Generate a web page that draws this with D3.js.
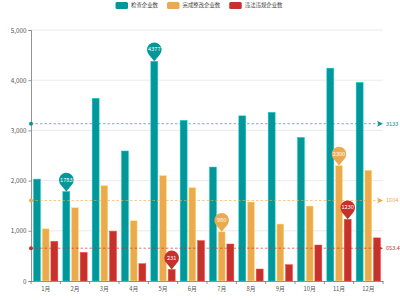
<!DOCTYPE html>
<html>
  <head>
    <meta charset="utf-8">
    <script src="https://d3js.org/d3.v7.min.js"></script>
    <title>企业检查统计</title>
    <style>
      body {
        margin: 0px;
        background: #fff;
      }
      text {
        font-family: 'Noto Sans CJK SC', 'Noto Sans', sans-serif;
      }
      .legend-label {
        fill: #444;
        font-size: 5.4px;
      }
      .pin-label {
        fill: #fff;
        font-size: 5.6px;
        text-anchor: middle;
      }
    </style>
  </head>
  <body>
    <script>
      const months = ['1月', '2月', '3月', '4月', '5月', '6月', '7月', '8月', '9月', '10月', '11月', '12月'];
      const seriesNames = ['检查企业数', '完成整改企业数', '违法违规企业数'];
      const checked = [2030, 1783, 3640, 2590, 4377, 3200, 2270, 3290, 3360, 2860, 4240, 3956];
      const rectified = [1040, 1460, 1900, 1200, 2100, 1860, 980, 1574, 1135, 1494, 2300, 2207];
      const illegal = [790, 570, 993, 345, 231, 805, 737, 239, 325, 717, 1230, 859];
      const yTicks = [0, 1000, 2000, 3000, 4000, 5000];
      const colors = ['#03979a', '#ecaa50', '#c5312d'];

      const width = 400, height = 300;
      const margin = { left: 31, right: 17, top: 30, bottom: 19 };
      const innerWidth = width - margin.left - margin.right;
      const innerHeight = height - margin.top - margin.bottom;
      const fontFamily = "'Noto Sans CJK SC', 'Noto Sans', sans-serif";

      const svg = d3.select('body').append('svg')
        .attr('width', width)
        .attr('height', height);

      const g = svg.append('g')
        .attr('transform', `translate(${margin.left},${margin.top})`);

      const xScale = d3.scaleBand().domain(months).range([0, innerWidth]);
      const xSub = d3.scaleBand().domain(seriesNames)
        .range([2.5, xScale.bandwidth() - 2.5])
        .paddingInner(0.2);
      const yScale = d3.scaleLinear().domain([0, 5000]).range([innerHeight, 0]);

      const series = [checked, rectified, illegal];

      // grid lines
      g.append('g').selectAll('line')
        .data(yTicks.filter(d => d > 0))
        .enter().append('line')
          .attr('x1', 0)
          .attr('x2', innerWidth)
          .attr('y1', d => yScale(d))
          .attr('y2', d => yScale(d))
          .attr('stroke', '#e3e3e3')
          .attr('stroke-width', 0.8);

      // y axis
      const yAxisG = g.append('g').call(
        d3.axisLeft(yScale).tickValues(yTicks).tickFormat(d3.format(',')).tickSize(2.5).tickPadding(2)
      );
      yAxisG.attr('font-size', 6.3).attr('font-family', fontFamily);
      yAxisG.select('.domain').attr('stroke', '#777').attr('stroke-width', 0.8);
      yAxisG.selectAll('.tick line').attr('stroke', '#777').attr('stroke-width', 0.8);
      yAxisG.selectAll('.tick text').attr('fill', '#555');

      // bars
      series.forEach((vals, si) => {
        g.append('g').selectAll('rect')
          .data(vals)
          .enter().append('rect')
            .attr('x', (d, i) => xScale(months[i]) + xSub(seriesNames[si]))
            .attr('y', d => yScale(d))
            .attr('width', xSub.bandwidth())
            .attr('height', d => innerHeight - yScale(d))
            .attr('fill', colors[si])
            .attr('stroke', d3.color(colors[si]).brighter(0.9))
            .attr('stroke-width', 0.5);
      });

      // x axis
      const xAxisG = g.append('g')
        .attr('transform', `translate(0,${innerHeight})`)
        .call(d3.axisBottom(xScale).tickSize(0).tickPadding(6));
      xAxisG.attr('font-size', 5.8).attr('font-family', fontFamily);
      xAxisG.select('.domain').attr('stroke', '#777').attr('stroke-width', 0.8);
      xAxisG.selectAll('.tick text').attr('fill', '#555');
      xAxisG.selectAll('.boundary')
        .data(d3.range(months.length + 1))
        .enter().append('line')
          .attr('class', 'boundary')
          .attr('x1', i => i * xScale.step())
          .attr('x2', i => i * xScale.step())
          .attr('y1', 0)
          .attr('y2', 3)
          .attr('stroke', '#777')
          .attr('stroke-width', 0.8);

      // average lines
      const avgFormat = d3.format('.4');
      series.forEach((vals, si) => {
        const avg = d3.mean(vals);
        const y = yScale(avg);
        const lg = g.append('g');
        lg.append('line')
          .attr('x1', 0)
          .attr('x2', innerWidth - 4)
          .attr('y1', y)
          .attr('y2', y)
          .attr('stroke', colors[si])
          .attr('stroke-opacity', 0.8)
          .attr('stroke-width', 0.8)
          .attr('stroke-dasharray', '2.5,2');
        lg.append('circle')
          .attr('cx', 0)
          .attr('cy', y)
          .attr('r', 2)
          .attr('fill', colors[si]);
        lg.append('path')
          .attr('d', `M${innerWidth - 6},${y - 3} L${innerWidth},${y} L${innerWidth - 6},${y + 3} L${innerWidth - 4.5},${y} Z`)
          .attr('fill', colors[si]);
        lg.append('text')
          .attr('x', innerWidth + 3)
          .attr('y', y)
          .attr('dy', '0.35em')
          .attr('fill', colors[si])
          .attr('font-size', '5.6px')
          .text(avgFormat(avg));
      });

      // max/min pins
      const pinPath = 'M0,0 L-5.4,-6.6 A7.3,7.3 0 1,1 5.4,-6.6 Z';
      series.forEach((vals, si) => {
        const idx = [d3.maxIndex(vals), d3.minIndex(vals)];
        idx.forEach(i => {
          const px = xScale(months[i]) + xSub(seriesNames[si]) + xSub.bandwidth() / 2;
          const py = yScale(vals[i]);
          const pg = g.append('g').attr('transform', `translate(${px},${py})`);
          pg.append('path')
            .attr('d', pinPath)
            .attr('fill', colors[si]);
          pg.append('text')
            .attr('class', 'pin-label')
            .attr('y', -11.8)
            .attr('dy', '0.35em')
            .text(vals[i]);
        });
      });

      // legend
      const legendG = svg.append('g');
      let lx = 0;
      seriesNames.forEach((name, si) => {
        const ig = legendG.append('g');
        ig.append('rect')
          .attr('width', 12.5)
          .attr('height', 7)
          .attr('rx', 1.5)
          .attr('fill', colors[si]);
        const t = ig.append('text')
          .attr('class', 'legend-label')
          .attr('x', 15.5)
          .attr('y', 3.5)
          .attr('dy', '0.35em')
          .text(name);
        const w = 15.5 + t.node().getComputedTextLength();
        ig.attr('transform', `translate(${lx},0)`);
        lx += w + 9;
      });
      const legendWidth = lx - 9;
      legendG.attr('transform', `translate(${(width - legendWidth) / 2 - 1},2)`);
    </script>
  </body>
</html>
